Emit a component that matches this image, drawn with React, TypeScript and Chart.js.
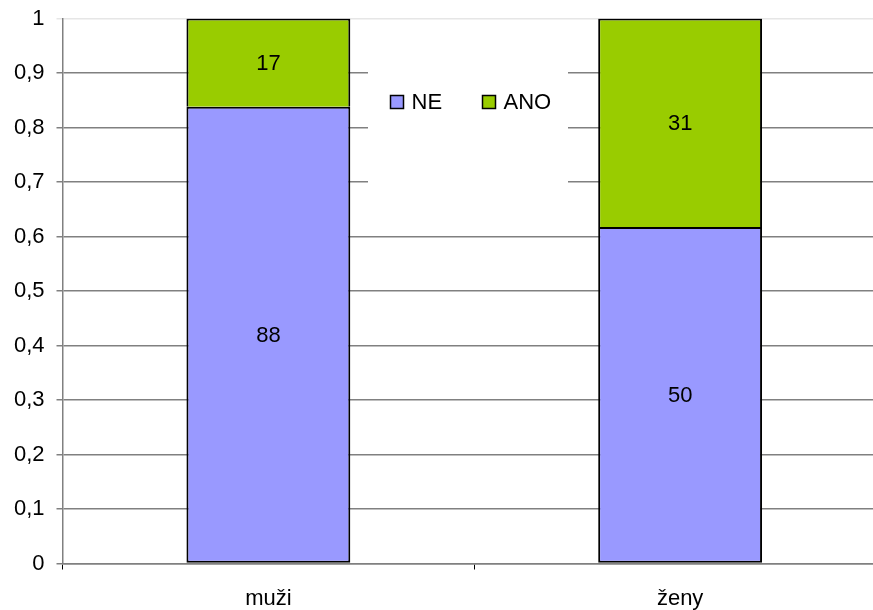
import React, { useEffect, useRef } from "react";
import { Chart, registerables } from "chart.js";

Chart.register(...registerables);

const categories = ["muži", "ženy"];
const seriesNames = ["NE", "ANO"];
const neValues = [88, 50];
const anoValues = [17, 31];
const seriesColors = ["#9999FF", "#99CC00"];
const yTicks = [0, 0.1, 0.2, 0.3, 0.4, 0.5, 0.6, 0.7, 0.8, 0.9, 1];

const FONT = "'Liberation Sans', Arial, sans-serif";
const FS = 22;

export default function App() {
  const ref = useRef<HTMLCanvasElement | null>(null);

  useEffect(() => {
    if (!ref.current) return;
    const totals = categories.map((_, i) => neValues[i] + anoValues[i]);
    const raw = [neValues, anoValues];
    const shares = raw.map((arr) => arr.map((v, i) => v / totals[i]));

    const labelPlugin = {
      id: "segLabels",
      afterDatasetsDraw(chart: any) {
        const ctx = chart.ctx;
        ctx.save();
        ctx.font = `${FS}px ${FONT}`;
        ctx.fillStyle = "#000";
        ctx.textAlign = "center";
        ctx.textBaseline = "middle";
        chart.data.datasets.forEach((ds: any, di: number) => {
          const meta = chart.getDatasetMeta(di);
          meta.data.forEach((el: any, i: number) => {
            const p = el.getCenterPoint();
            ctx.fillText(String(raw[di][i]), p.x, p.y + 1);
          });
        });
        ctx.restore();
      },
    };

    const legendPlugin = {
      id: "boxLegend",
      beforeDatasetsDraw(chart: any) {
        const ctx = chart.ctx;
        ctx.save();
        ctx.fillStyle = "#fff";
        ctx.fillRect(368, 45, 200, 160);
        ctx.font = `${FS}px ${FONT}`;
        ctx.textBaseline = "middle";
        ctx.textAlign = "left";
        const xs = [390.5, 482.5];
        const y = 95.5;
        seriesNames.forEach((name, i) => {
          ctx.fillStyle = seriesColors[i];
          ctx.fillRect(xs[i], y, 13, 13);
          ctx.strokeStyle = "#000";
          ctx.lineWidth = 1.5;
          ctx.strokeRect(xs[i], y, 13, 13);
          ctx.fillStyle = "#000";
          ctx.fillText(name, xs[i] + 21, y + 7);
        });
        ctx.restore();
      },
    };

    const chart = new Chart(ref.current, {
      type: "bar",
      data: {
        labels: categories,
        datasets: seriesNames.map((name, i) => ({
          label: name,
          data: shares[i],
          backgroundColor: seriesColors[i],
          borderColor: "#000",
          borderWidth: 2,
          borderSkipped: i === 0 ? false : "bottom",
          categoryPercentage: 1,
          barPercentage: 0.398,
        })),
      },
      options: {
        responsive: false,
        animation: false,
        layout: { padding: { top: 18.5, right: 14, left: 0, bottom: 0 } },
        plugins: {
          legend: { display: false },
          tooltip: { enabled: false },
        },
        scales: {
          x: {
            stacked: true,
            offset: true,
            grid: {
              offset: true,
              drawOnChartArea: false,
              drawTicks: true,
              tickLength: 6,
              color: "#000",
            },
            border: { color: "#808080", width: 1.5 },
            ticks: {
              color: "#000",
              font: { family: FONT, size: FS },
              padding: 16,
            },
            afterFit(scale: any) {
              scale.height = 46.5;
            },
          },
          y: {
            stacked: true,
            min: 0,
            max: 1,
            afterBuildTicks(scale: any) {
              scale.ticks = yTicks.map((v) => ({ value: v }));
            },
            ticks: {
              color: "#000",
              font: { family: FONT, size: FS },
              padding: 12,
              callback: (v: any) => {
                const n = Number(v);
                if (n === 0 || n === 1) return String(n);
                return n.toFixed(1).replace(".", ",");
              },
            },
            grid: {
              tickLength: 6,
              lineWidth: 1.5,
              color: (c: any) =>
                c.tick && c.tick.value === 1 ? "#e6e6e6" : "#808080",
            },
            border: { color: "#808080", width: 1.5 },
            afterFit(scale: any) {
              scale.width = 62.5;
              scale.paddingTop = 0;
            },
          },
        },
      },
      plugins: [legendPlugin, labelPlugin],
    });
    return () => chart.destroy();
  }, []);

  return (
    <div
      style={{
        position: "fixed",
        left: 0,
        top: 0,
        width: 873,
        height: 610,
        overflow: "hidden",
        background: "#fff",
      }}
    >
      <canvas ref={ref} width={900} height={610} style={{ display: "block" }} />
    </div>
  );
}
